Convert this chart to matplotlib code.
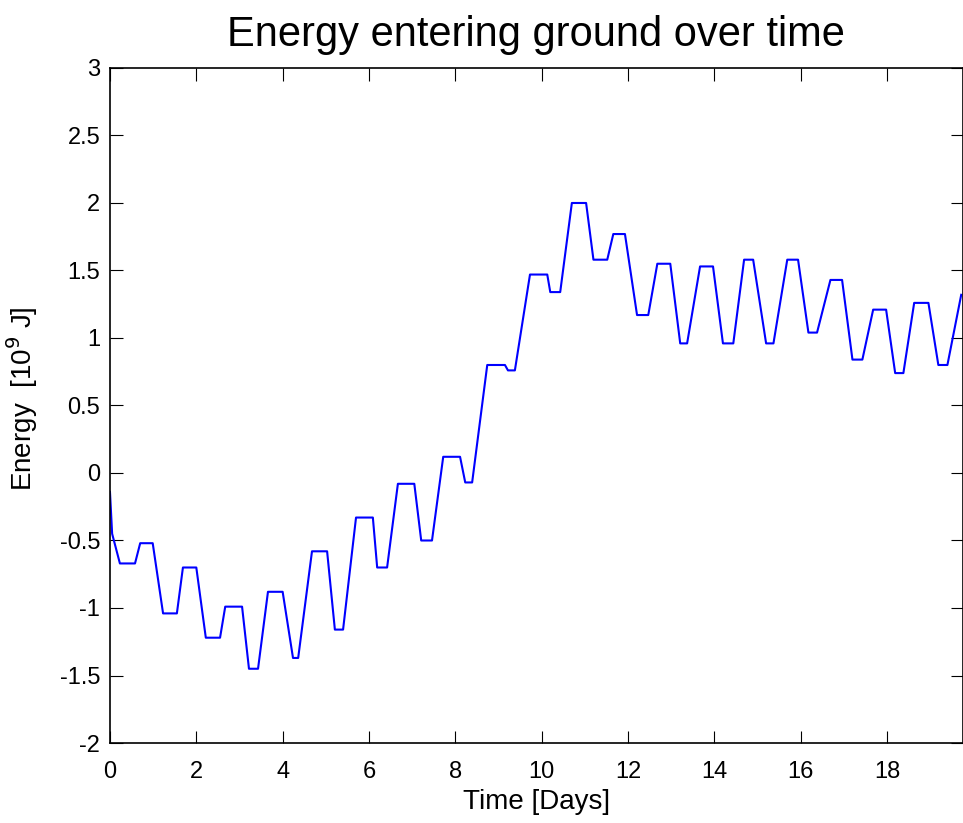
import matplotlib.pyplot as plt

# time [days] and energy [1e9 J]
days = [0.0, 0.05, 0.23, 0.58, 0.70, 0.99, 1.23, 1.55, 1.69, 2.00,
        2.22, 2.55, 2.67, 3.06, 3.22, 3.43, 3.66, 4.00, 4.24, 4.36,
        4.68, 5.03, 5.21, 5.40, 5.70, 6.09, 6.19, 6.42, 6.67, 7.05,
        7.21, 7.46, 7.72, 8.11, 8.23, 8.39, 8.74, 9.15, 9.22, 9.38,
        9.73, 10.13, 10.20, 10.43, 10.70, 11.03, 11.20, 11.52, 11.66, 11.93,
        12.21, 12.47, 12.68, 12.98, 13.21, 13.37, 13.67, 13.97, 14.20, 14.44,
        14.69, 14.90, 15.20, 15.37, 15.69, 15.94, 16.18, 16.38, 16.69, 16.96,
        17.20, 17.43, 17.68, 17.98, 18.19, 18.38, 18.63, 18.96, 19.19, 19.40,
        19.72]
energy = [-0.14, -0.45, -0.67, -0.67, -0.52, -0.52, -1.04, -1.04, -0.70, -0.70,
          -1.22, -1.22, -0.99, -0.99, -1.45, -1.45, -0.88, -0.88, -1.37, -1.37,
          -0.58, -0.58, -1.16, -1.16, -0.33, -0.33, -0.70, -0.70, -0.08, -0.08,
          -0.50, -0.50, 0.12, 0.12, -0.07, -0.07, 0.80, 0.80, 0.76, 0.76,
          1.47, 1.47, 1.34, 1.34, 2.00, 2.00, 1.58, 1.58, 1.77, 1.77,
          1.17, 1.17, 1.55, 1.55, 0.96, 0.96, 1.53, 1.53, 0.96, 0.96,
          1.58, 1.58, 0.96, 0.96, 1.58, 1.58, 1.04, 1.04, 1.43, 1.43,
          0.84, 0.84, 1.21, 1.21, 0.74, 0.74, 1.26, 1.26, 0.80, 0.80,
          1.32]

plt.rcParams['font.family'] = ['Liberation Sans', 'DejaVu Sans']

fig = plt.figure(figsize=(9.63, 8.23), dpi=100)
ax = fig.add_axes([0.1142, 0.0972, 0.8853, 0.8202])
ax.plot(days, energy, color='#0000ff', lw=1.5)

ax.set_xlim(0, 19.75)
ax.set_ylim(-2, 3)
ax.set_xticks(range(0, 20, 2))
ax.set_yticks([-2, -1.5, -1, -0.5, 0, 0.5, 1, 1.5, 2, 2.5, 3])
ax.set_yticklabels(['-2', '-1.5', '-1', '-0.5', '0', '0.5', '1', '1.5', '2', '2.5', '3'])
ax.tick_params(direction='in', top=True, right=True, length=9, labelsize=17, pad=7)
ax.tick_params(axis='x', pad=13)
for s in ax.spines.values():
    s.set_linewidth(1.2)

ax.set_title('Energy entering ground over time', fontsize=30, pad=16)
ax.set_xlabel('Time [Days]', fontsize=20, labelpad=4)
ax.set_ylabel('Energy  [10$^9$ J]', fontsize=20)
ax.yaxis.set_label_coords(-0.082, 0.51)

fig.savefig('out.png', dpi=100)
